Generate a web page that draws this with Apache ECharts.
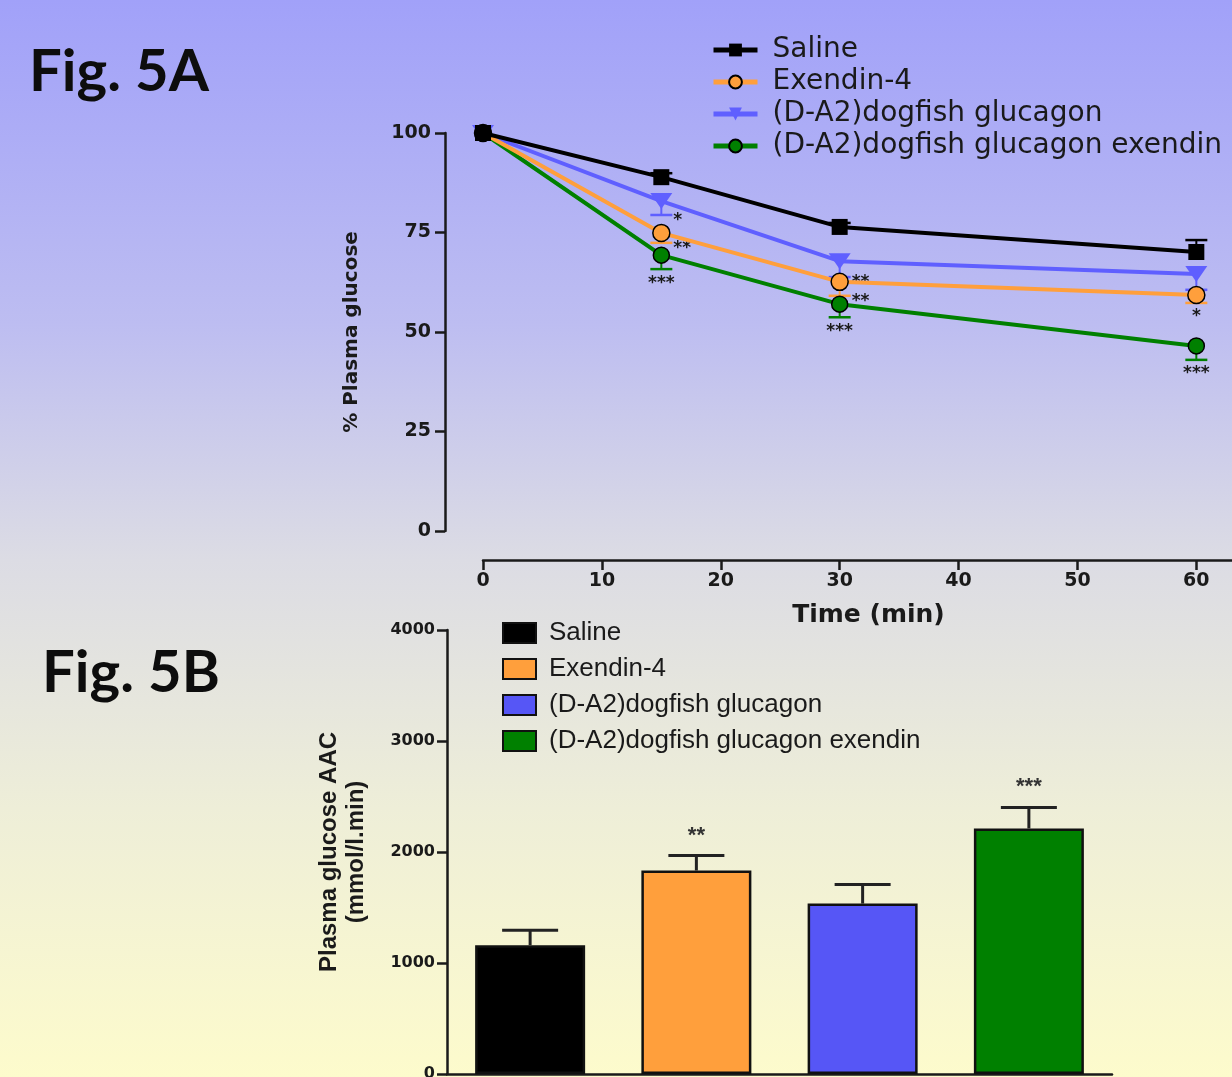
<!DOCTYPE html>
<html>
<head>
<meta charset="utf-8">
<script src="https://cdn.jsdelivr.net/npm/echarts@6/dist/echarts.min.js"></script>
<style>
html,body{margin:0;padding:0;}
body{width:1232px;height:1077px;overflow:hidden;
background:linear-gradient(to bottom,#a1a1f9 0%,#bdbdf1 30%,#dcdce4 52%,#eeeed8 75%,#fdfbcc 100%);}
#c{width:1232px;height:1077px;}
</style>
</head>
<body>
<div id="c"></div>
<script>
// ---------- Fig. 5A data ----------
const timeMin = [0, 15, 30, 60];
const xTicks = [0, 10, 20, 30, 40, 50, 60];
const groups = ['Saline', 'Exendin-4', '(D-A2)dogfish glucagon', '(D-A2)dogfish glucagon exendin'];
const salinePct   = [100, 88.9, 76.4, 70.1];
const exendinPct  = [100, 74.9, 62.6, 59.3];
const glucagonPct = [100, 82.9, 67.8, 64.6];
const comboPct    = [100, 69.3, 57.0, 46.5];
const salineSem   = [0, 1.0, 1.0, 3.0];
const exendinSem  = [0, 2.5, 3.5, 2.0];
const glucagonSem = [0, 3.5, 4.0, 4.0];
const comboSem    = [0, 3.5, 3.3, 3.5];
const salineSig   = ['', '', '', ''];
const exendinSig  = ['', '**', '**', '*'];
const glucagonSig = ['', '*', '**', ''];
const comboSig    = ['', '***', '***', '***'];

// ---------- Fig. 5B data ----------
const aacMean = [1160, 1833, 1535, 2212];
const aacSem  = [135, 135, 172, 190];
const aacSig  = ['', '**', '', '***'];

// ---------- styles ----------
const colors = ['#000000', '#ff9f3c', '#5f5fff', '#008000'];
const barColors = ['#000000', '#ff9f3c', '#5656f6', '#008000'];
const symbols = ['rect', 'circle', 'triangle', 'circle'];
const symRot = [0, 0, 180, 0];
const symSize = [16, 17, [22, 16], 16];
const borders = [0, 1.5, 0, 1.5];
const errDir = [1, -1, -1, -1];
const lineZ = [7, 6, 5, 4];
// star placement: 'r' = right of bar end, 'b' = below
const sigPlace = [
  ['b','b','b','b'],
  ['b','r','r','b'],
  ['b','r','r','b'],
  ['b','b','b','b']
];
const pctSeries = [salinePct, exendinPct, glucagonPct, comboPct];
const semSeries = [salineSem, exendinSem, glucagonSem, comboSem];
const sigSeries = [salineSig, exendinSig, glucagonSig, comboSig];

const chart = echarts.init(document.getElementById('c'), null, {renderer: 'canvas'});

const series = [];
// error bars for 5A (drawn under lines)
pctSeries.forEach((vals, s) => {
  series.push({
    type: 'custom',
    xAxisIndex: 0, yAxisIndex: 0,
    z: 1,
    silent: true,
    data: timeMin.map((t, i) => [t, vals[i], semSeries[s][i], i]),
    renderItem: function (params, api) {
      const t = api.value(0), v = api.value(1), e = api.value(2), i = api.value(3);
      const dir = errDir[s];
      const p = api.coord([t, v]);
      const q = api.coord([t, v + dir * e]);
      const children = [];
      if (e > 0) {
        children.push({type: 'line', shape: {x1: p[0], y1: p[1], x2: q[0], y2: q[1]}, style: {stroke: colors[s], lineWidth: 2}});
        children.push({type: 'line', shape: {x1: q[0] - 11, y1: q[1], x2: q[0] + 11, y2: q[1]}, style: {stroke: colors[s], lineWidth: 2.5}});
      }
      const sig = sigSeries[s][i];
      if (sig) {
        const place = sigPlace[s][i];
        children.push({
          type: 'text',
          z2: 50,
          style: place === 'r'
            ? {text: sig, x: q[0] + 12, y: q[1] + 6, align: 'left', verticalAlign: 'middle', font: 'bold 17px "DejaVu Sans"', fill: '#1a1a1a'}
            : {text: sig, x: q[0], y: q[1] + 14, align: 'center', verticalAlign: 'middle', font: 'bold 17px "DejaVu Sans"', fill: '#1a1a1a'}
        });
      }
      return {type: 'group', children: children};
    }
  });
});
// lines 5A
pctSeries.forEach((vals, s) => {
  series.push({
    type: 'line',
    name: groups[s],
    xAxisIndex: 0, yAxisIndex: 0,
    z: lineZ[s],
    data: timeMin.map((t, i) => [t, vals[i]]),
    symbol: symbols[s],
    symbolSize: symSize[s],
    symbolRotate: symRot[s],
    showAllSymbol: true,
    lineStyle: {color: colors[s], width: 4},
    itemStyle: {color: colors[s], borderColor: '#000', borderWidth: borders[s], opacity: 1},
    emphasis: {disabled: true}
  });
});
// bars 5B
groups.forEach((g, k) => {
  series.push({
    type: 'bar',
    name: 'B:' + g,
    xAxisIndex: 1, yAxisIndex: 1,
    data: groups.map((_, i) => i === k ? aacMean[i] : '-'),
    barWidth: 110,
    barGap: '-100%',
    itemStyle: {color: barColors[k], borderColor: '#111', borderWidth: 2.5},
    emphasis: {disabled: true}
  });
});
// error bars 5B
series.push({
  type: 'custom',
  xAxisIndex: 1, yAxisIndex: 1,
  z: 5,
  silent: true,
  data: groups.map((g, i) => [i, aacMean[i], aacSem[i]]),
  renderItem: function (params, api) {
    const i = api.value(0), v = api.value(1), e = api.value(2);
    const p = api.coord([i, v]);
    const q = api.coord([i, v + e]);
    const children = [
      {type: 'line', shape: {x1: p[0], y1: p[1], x2: q[0], y2: q[1]}, style: {stroke: '#222', lineWidth: 3}},
      {type: 'line', shape: {x1: q[0] - 28, y1: q[1], x2: q[0] + 28, y2: q[1]}, style: {stroke: '#222', lineWidth: 3}}
    ];
    if (aacSig[i]) {
      children.push({type: 'text', style: {text: aacSig[i], x: q[0], y: q[1] - 20, align: 'center', verticalAlign: 'middle', font: 'bold 22px "Liberation Sans"', fill: '#333'}});
    }
    return {type: 'group', children: children};
  }
});

const axisLine = {show: true, onZero: false, lineStyle: {color: '#1a1a1a', width: 2.5}};
const axisTick = {show: true, length: 10, inside: false, lineStyle: {color: '#1a1a1a', width: 2.5}};

const option = {
  backgroundColor: 'transparent',
  animation: false,
  textStyle: {fontFamily: 'DejaVu Sans'},
  grid: [
    {left: 483, right: 0, top: 133, height: 398, outerBoundsMode: 'none'},
    {left: 447, right: 120, top: 630, height: 444, outerBoundsMode: 'none'}
  ],
  xAxis: [
    {
      type: 'value', gridIndex: 0, min: 0, max: 63, interval: 10,
      offset: 29,
      axisLine: axisLine,
      axisTick: Object.assign({}, axisTick, {customValues: xTicks}),
      splitLine: {show: false},
      axisLabel: {customValues: xTicks, color: '#1a1a1a', fontWeight: 'bold', fontSize: 19, fontFamily: 'DejaVu Sans', margin: 12},
      name: 'Time (min)', nameLocation: 'middle', nameGap: 43,
      nameTextStyle: {color: '#1a1a1a', fontWeight: 'bold', fontSize: 25, fontFamily: 'DejaVu Sans', padding: [0, 0, 0, 22]}
    },
    {
      type: 'category', gridIndex: 1, data: groups,
      axisLine: axisLine, axisTick: {show: false}, axisLabel: {show: false}
    }
  ],
  yAxis: [
    {
      type: 'value', gridIndex: 0, min: 0, max: 100, interval: 25,
      offset: 38,
      axisLine: axisLine, axisTick: axisTick, splitLine: {show: false},
      axisLabel: {color: '#1a1a1a', fontWeight: 'bold', fontSize: 19, fontFamily: 'DejaVu Sans', margin: 14},
      name: '% Plasma glucose', nameLocation: 'middle', nameGap: 83, nameRotate: 90,
      nameTextStyle: {color: '#1a1a1a', fontWeight: 'bold', fontSize: 20, fontFamily: 'DejaVu Sans'}
    },
    {
      type: 'value', gridIndex: 1, min: 0, max: 4000, interval: 1000,
      axisLine: axisLine, axisTick: axisTick, splitLine: {show: false},
      axisLabel: {color: '#1a1a1a', fontWeight: 'bold', fontSize: 16, fontFamily: 'DejaVu Sans', margin: 12, formatter: v => String(v)},
      name: 'Plasma glucose AAC\n(mmol/l.min)', nameLocation: 'middle', nameGap: 77, nameRotate: 90,
      nameTextStyle: {color: '#1a1a1a', fontWeight: 'bold', fontSize: 24, lineHeight: 27, fontFamily: 'Liberation Sans'}
    }
  ],
  legend: [
    {
      data: groups, left: 706, top: 31, orient: 'vertical',
      itemWidth: 44, itemHeight: 16, itemGap: 4,
      selectedMode: false,
      lineStyle: {width: 5},
      textStyle: {color: '#1a1a1a', fontSize: 28, fontFamily: 'DejaVu Sans', padding: [0, 0, 0, 10]}
    },
    {
      data: groups.map(g => 'B:' + g), left: 497, top: 615, orient: 'vertical',
      itemWidth: 33, itemHeight: 20, itemGap: 10,
      icon: 'rect',
      selectedMode: false,
      formatter: n => n.slice(2),
      textStyle: {color: '#1a1a1a', fontSize: 26, fontFamily: 'Liberation Sans', padding: [0, 0, 0, 8]}
    }
  ],
  graphic: [
    {type: 'text', left: 29, top: 43, style: {text: 'Fig. 5A', font: 'bold 58px Lato', fill: '#0d0d0d'}},
    {type: 'text', left: 42, top: 644, style: {text: 'Fig. 5B', font: 'bold 58px Lato', fill: '#0d0d0d'}}
  ],
  series: series
};
chart.setOption(option);
</script>
</body>
</html>
